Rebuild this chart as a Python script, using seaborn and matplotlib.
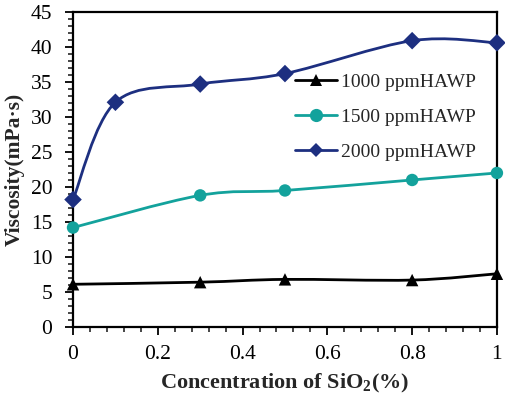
import numpy as np
import pandas as pd
import matplotlib
matplotlib.use("Agg")
import matplotlib.pyplot as plt
from matplotlib.path import Path
from matplotlib.patches import PathPatch
from matplotlib.lines import Line2D
from matplotlib.ticker import MultipleLocator
import seaborn as sns

# ---- data ----
x_1000 = [0, 0.3, 0.5, 0.8, 1.0]
y_1000 = [6.1, 6.4, 6.8, 6.7, 7.6]
x_1500 = [0, 0.3, 0.5, 0.8, 1.0]
y_1500 = [14.2, 18.8, 19.5, 21.0, 22.0]
x_2000 = [0, 0.1, 0.3, 0.5, 0.8, 1.0]
y_2000 = [18.2, 32.1, 34.7, 36.2, 40.9, 40.6]
series_names = ["1000 ppmHAWP", "1500 ppmHAWP", "2000 ppmHAWP"]
x_ticks = [0, 0.2, 0.4, 0.6, 0.8, 1.0]
x_ticklabels = ["0", "0.2", "0.4", "0.6", "0.8", "1"]
colors = ["#000000", "#13A29C", "#1D2F80"]
markers = ["^", "o", "D"]

sns.set_style("ticks")
plt.rcParams['font.family'] = ['Liberation Serif', 'DejaVu Serif']
plt.rcParams['mathtext.fontset'] = 'custom'
plt.rcParams['mathtext.rm'] = 'Liberation Serif'
plt.rcParams['mathtext.bf'] = 'Liberation Serif:bold'

fig = plt.figure(figsize=(5.05, 3.99), dpi=100)
ax = fig.add_axes([0.1446, 0.1805, 0.984 - 0.1446, 0.970 - 0.1805])
ax.set_xlim(0, 1)
ax.set_ylim(0, 45)

frames = []
for name, xs, ys in zip(series_names, [x_1000, x_1500, x_2000], [y_1000, y_1500, y_2000]):
    frames.append(pd.DataFrame({"x": xs, "y": ys, "series": name}))
df = pd.concat(frames, ignore_index=True)


def smooth_path(xs, ys):
    pts = ax.transData.transform(np.column_stack([xs, ys]))
    n = len(pts)
    verts = [pts[0]]
    codes = [Path.MOVETO]
    for i in range(n - 1):
        p0 = pts[i - 1] if i > 0 else pts[i]
        p1 = pts[i]
        p2 = pts[i + 1]
        p3 = pts[i + 2] if i + 2 < n else pts[i + 1]
        c1 = p1 + (p2 - p0) / 6.0
        c2 = p2 - (p3 - p1) / 6.0
        verts += [c1, c2, p2]
        codes += [Path.CURVE4] * 3
    verts = ax.transData.inverted().transform(np.array(verts))
    return Path(verts, codes)


for name, c in zip(series_names, colors):
    sub = df[df.series == name]
    patch = PathPatch(smooth_path(sub.x.values, sub.y.values), facecolor='none',
                      edgecolor=c, lw=2.0, transform=ax.transData, clip_on=False, zorder=2)
    ax.add_patch(patch)

sns.scatterplot(data=df, x="x", y="y", hue="series", style="series",
                palette=dict(zip(series_names, colors)),
                markers=dict(zip(series_names, markers)),
                s=80, edgecolor=None, linewidth=0, legend=False, ax=ax,
                clip_on=False, zorder=3)

ax.set_xlim(0, 1)
ax.set_ylim(0, 45)
ax.xaxis.set_major_locator(MultipleLocator(0.2))
ax.xaxis.set_minor_locator(MultipleLocator(0.04))
ax.yaxis.set_major_locator(MultipleLocator(5))
ax.yaxis.set_minor_locator(MultipleLocator(1))
ax.tick_params(axis='both', which='major', direction='out', length=6, width=1.3,
               labelsize=15.5, colors='black')
ax.tick_params(axis='x', which='major', pad=7)
ax.tick_params(axis='y', which='major', pad=9)
ax.tick_params(axis='both', which='minor', direction='out', length=3.5, width=1.2)
ax.set_xticks(x_ticks)
ax.set_xticklabels(x_ticklabels)
for s in ax.spines.values():
    s.set_linewidth(1.6)
    s.set_color('black')

ax.set_xlabel(r"Concentration of SiO$_\mathbf{2}$(%)", fontsize=16, fontweight='bold', labelpad=6)
ax.set_ylabel("Viscosity(mPa·s)", fontsize=15.5, fontweight='bold', labelpad=4)

handles = [Line2D([0], [0], color=c, lw=2.0, marker=m, markersize=ms, markeredgewidth=0)
           for c, m, ms in zip(colors, markers, [9, 9.5, 7.5])]
ax.legend(handles, series_names, loc='center left', bbox_to_anchor=(0.5, 0.667),
          frameon=False, fontsize=14, handlelength=2.2, handletextpad=0.2,
          labelspacing=0.9, borderpad=0)

fig.savefig("out.png", dpi=100)
